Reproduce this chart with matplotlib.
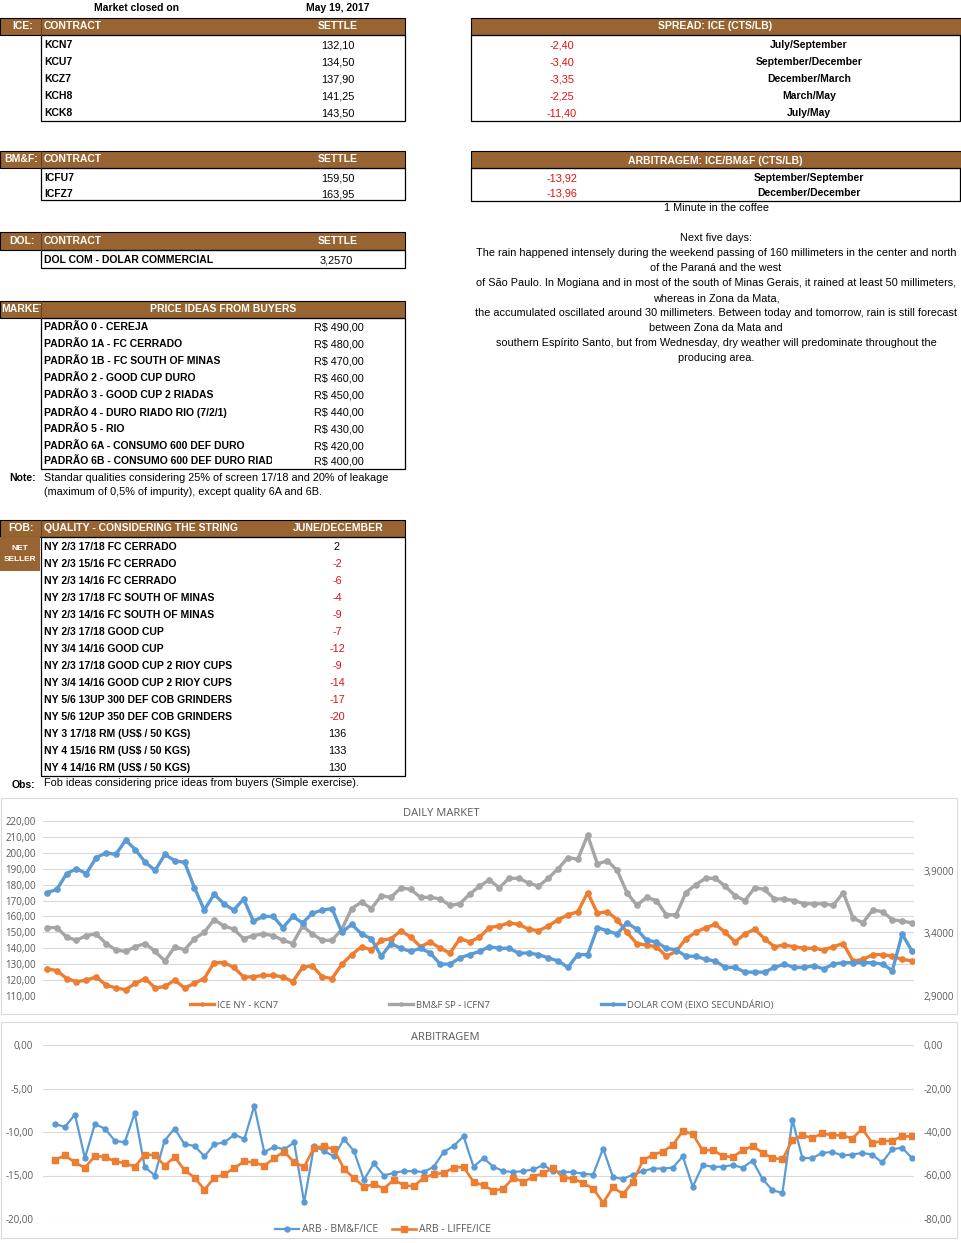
import matplotlib
matplotlib.use('Agg')
import matplotlib.pyplot as plt
from matplotlib.patches import Rectangle
from matplotlib.transforms import Bbox, TransformedBbox
import numpy as np

# table data
market_date = 'May 19, 2017'
ice_contracts = ['KCN7', 'KCU7', 'KCZ7', 'KCH8', 'KCK8']
ice_settle = ['132,10', '134,50', '137,90', '141,25', '143,50']
spread_values = ['-2,40', '-3,40', '-3,35', '-2,25', '-11,40']
spread_labels = ['July/September', 'September/December', 'December/March', 'March/May', 'July/May']
bmf_contracts = ['ICFU7', 'ICFZ7']
bmf_settle = ['159,50', '163,95']
arb_values = ['-13,92', '-13,96']
arb_labels = ['September/September', 'December/December']
dol_contracts = ['DOL COM - DOLAR COMMERCIAL']
dol_settle = ['3,2570']
price_qualities = ['PADRÃO 0 - CEREJA', 'PADRÃO 1A - FC CERRADO', 'PADRÃO 1B - FC SOUTH OF MINAS',
                   'PADRÃO 2 - GOOD CUP DURO', 'PADRÃO 3 - GOOD CUP 2 RIADAS',
                   'PADRÃO 4 - DURO RIADO RIO (7/2/1)', 'PADRÃO 5 - RIO',
                   'PADRÃO 6A - CONSUMO 600 DEF DURO', 'PADRÃO 6B - CONSUMO 600 DEF DURO RIADO']
price_values = ['R$ 490,00', 'R$ 480,00', 'R$ 470,00', 'R$ 460,00', 'R$ 450,00',
                'R$ 440,00', 'R$ 430,00', 'R$ 420,00', 'R$ 400,00']
note_lines = ['Standar qualities considering 25% of screen 17/18 and 20% of leakage',
              '(maximum of 0,5% of impurity), except quality 6A and 6B.']
fob_qualities = ['NY 2/3 17/18 FC CERRADO', 'NY 2/3 15/16 FC CERRADO', 'NY 2/3 14/16 FC CERRADO',
                 'NY 2/3 17/18 FC SOUTH OF MINAS', 'NY 2/3 14/16 FC SOUTH OF MINAS',
                 'NY 2/3 17/18 GOOD CUP', 'NY 3/4 14/16 GOOD CUP', 'NY 2/3 17/18 GOOD CUP 2 RIOY CUPS',
                 'NY 3/4 14/16 GOOD CUP 2 RIOY CUPS', 'NY 5/6 13UP 300 DEF COB GRINDERS',
                 'NY 5/6 12UP 350 DEF COB GRINDERS', 'NY 3 17/18 RM (US$ / 50 KGS)',
                 'NY 4 15/16 RM (US$ / 50 KGS)', 'NY 4 14/16 RM (US$ / 50 KGS)']
fob_diffs = [2, -2, -6, -4, -9, -7, -12, -9, -14, -17, -20, 136, 133, 130]
obs_text = 'Fob ideas considering price ideas from buyers (Simple exercise).'
weather_lines = ['Next five days:',
                 'The rain happened intensely during the weekend passing of 160 millimeters in the center and north',
                 'of the Paraná and the west',
                 'of São Paulo. In Mogiana and in most of the south of Minas Gerais, it rained at least 50 millimeters,',
                 'whereas in Zona da Mata,',
                 'the accumulated oscillated around 30 millimeters. Between today and tomorrow, rain is still forecast',
                 'between Zona da Mata and',
                 'southern Espírito Santo, but from Wednesday, dry weather will predominate throughout the',
                 'producing area.']

# daily market series
ice_ny = [127, 126, 121, 119, 120, 122, 117, 115, 114, 118, 121, 115, 116, 120, 115, 118, 121, 131, 131, 128,
          122, 122, 123, 123, 122, 119, 128, 129, 122, 121, 130, 136, 141, 139, 145, 146, 151, 147, 141, 144,
          140, 137, 146, 144,
          147, 153, 154, 156, 155, 152, 151, 154, 158, 161, 163, 175, 162, 163, 158, 150, 143, 142, 141, 135,
          138, 146, 150, 153, 155, 150, 144, 149, 152, 146, 141, 142, 141, 140, 140, 139, 141, 143, 132, 133,
          136, 136, 135, 133, 132.1]
bmf_sp = [153, 153, 147, 145, 148, 149, 143, 139, 138, 141, 143, 138, 132, 141, 139, 146, 150, 158, 154, 152,
          146, 148, 149, 148, 145, 143, 154, 149, 145, 145, 152, 165, 169, 165, 173, 172, 178, 177, 172, 172,
          171, 167, 168, 174,
          179, 183, 178, 184, 184, 181, 179, 184, 190, 197, 196, 211, 193, 195, 189, 175, 167, 172, 170, 161,
          161, 175, 180, 184, 184, 179, 173, 170, 178, 177, 171, 171, 170, 168, 168, 168, 167, 175, 159, 156,
          164, 163, 158, 157, 156]
dolar_com = [3.724, 3.749, 3.876, 3.914, 3.876, 4.003, 4.041, 4.028, 4.142, 4.066, 3.965, 3.902, 4.028, 3.978,
             3.965, 3.762, 3.585, 3.711, 3.635, 3.585, 3.673, 3.496, 3.534, 3.534, 3.445, 3.534, 3.483, 3.559,
             3.585, 3.597, 3.407, 3.471, 3.394, 3.356, 3.217, 3.318, 3.280, 3.255, 3.280, 3.242, 3.154, 3.154,
             3.204, 3.230,
             3.255, 3.293, 3.280, 3.280, 3.242, 3.242, 3.230, 3.204, 3.179, 3.128, 3.230, 3.230, 3.445, 3.420,
             3.394, 3.483, 3.432, 3.344, 3.331, 3.280, 3.268, 3.217, 3.217, 3.192, 3.179, 3.128, 3.128, 3.090,
             3.090, 3.090, 3.128, 3.154, 3.128, 3.128, 3.141, 3.116, 3.154, 3.166, 3.166, 3.166, 3.166, 3.154,
             3.103, 3.394, 3.257]

# arbitragem series
arb_bmf_ice = [-9.1, -9.4, -8.0, -13.0, -9.1, -9.6, -11.0, -11.2, -7.8, -14.0, -15.0, -11.0, -9.6, -11.4, -11.6,
               -12.8, -11.4, -11.2, -10.3, -10.8, -7.0, -12.3, -11.7, -12.0, -11.2, -18.1, -11.6, -12.2, -12.8,
               -10.8, -12.2, -15.5, -13.6, -15.0, -14.7, -14.5, -14.5, -14.6, -14.0, -12.3, -11.6, -10.5, -14.0,
               -13.0, -14.0, -14.5, -14.6, -14.5, -14.3, -13.8, -14.5, -14.6, -14.6, -14.8, -14.9, -11.9, -15.2,
               -15.4, -14.9, -14.5, -14.2, -14.2, -14.1, -12.8, -16.3, -13.8, -14.0, -14.0, -13.8, -14.1, -13.3,
               -15.4, -16.7, -17.0, -8.6, -13.0, -13.0, -12.4, -12.3, -12.7, -12.6, -12.4, -12.6, -13.5, -12.0,
               -11.8, -13.0]
arb_liffe_ice = [-52.8, -50.8, -54.0, -56.5, -51.0, -51.5, -53.5, -54.3, -56.0, -50.5, -50.5, -55.5, -51.5, -57.5,
                 -61.0, -66.5, -61.0, -59.5, -56.5, -53.5, -54.0, -55.5, -52.0, -49.0, -54.0, -56.0, -47.2, -46.6,
                 -48.0, -57.0, -61.2, -65.2, -64.0, -66.0, -62.0, -64.5, -65.0, -61.0, -59.5, -58.8, -56.5, -56.0,
                 -63.0,
                 -64.5, -67.0, -66.0, -61.0, -63.0, -60.5, -59.0, -56.5, -61.0, -61.5, -63.5, -66.0, -72.5, -65.5,
                 -68.5, -63.0, -53.0, -50.5, -49.0, -46.0, -39.5, -41.0, -48.5, -48.2, -51.0, -51.5, -48.5, -46.5,
                 -49.5, -52.0, -52.5, -43.8, -41.5, -42.8, -40.6, -41.5, -41.5, -43.0, -38.5, -45.0, -44.2, -44.0,
                 -42.0, -42.0]

# page in pixels
W, H = 961, 1243
fig = plt.figure(figsize=(W / 100, H / 100), dpi=100)
bg = fig.add_axes([0, 0, 1, 1])
bg.set_xlim(0, W)
bg.set_ylim(H, 0)
bg.axis('off')

brown = '#986532'
red = '#E01010'
tfont = 'Liberation Sans'
cfont = ['Open Sans', 'DejaVu Sans']
gray_txt = '#595959'


def txt(x, y, s, ha='left', color='black', bold=True, size=None, clip=None):
    if size is None:
        size = 7.5 if bold else 7.8
    t = bg.text(x, y, s, ha=ha, va='center', color=color, fontsize=size,
                fontweight='bold' if bold else 'normal', family=tfont)
    if clip is not None:
        t.set_clip_box(TransformedBbox(Bbox([[clip[0], 0], [clip[1], H]]), bg.transData))
        t.set_clip_on(True)
    return t


def header(x0, x1, y0, y1, sep=None):
    bg.add_patch(Rectangle((x0, y0), x1 - x0, y1 - y0, facecolor=brown, edgecolor='black', lw=0.8))
    if sep is not None:
        bg.plot([sep, sep], [y0, y1], color='#5a3a18', lw=0.6)


def box(x0, x1, y0, y1):
    bg.add_patch(Rectangle((x0, y0), x1 - x0, y1 - y0, facecolor='none', edgecolor='black', lw=0.9))


# title line
txt(136, 8, 'Market closed on', ha='center')
txt(338, 8, market_date, ha='center')

# ICE table
header(0, 405, 18, 35, sep=41)
txt(33, 26, 'ICE:', ha='right', color='white')
txt(44, 26, 'CONTRACT', color='white')
txt(338, 26, 'SETTLE', ha='center', color='white')
box(41, 405, 35, 121)
for i, (c, v) in enumerate(zip(ice_contracts, ice_settle)):
    txt(44, 45 + 17 * i, c)
    txt(338, 45 + 17 * i, v, ha='center', bold=False)

# spread table
header(471, 961, 18, 35)
txt(715, 26, 'SPREAD: ICE (CTS/LB)', ha='center', color='white')
box(471, 960, 35, 121)
for i, (v, lab) in enumerate(zip(spread_values, spread_labels)):
    txt(562, 45 + 17 * i, v, ha='center', color=red, bold=False)
    txt(809, 45 + 17 * i, lab, ha='center')

# BM&F table
header(0, 405, 151, 168, sep=41)
txt(38, 159, 'BM&F:', ha='right', color='white')
txt(44, 159, 'CONTRACT', color='white')
txt(338, 159, 'SETTLE', ha='center', color='white')
box(41, 405, 168, 200)
for i, (c, v) in enumerate(zip(bmf_contracts, bmf_settle)):
    txt(44, 178 + 16 * i, c)
    txt(338, 178 + 16 * i, v, ha='center', bold=False)

# arbitragem table
header(471, 961, 151, 168)
txt(715, 161, 'ARBITRAGEM: ICE/BM&F (CTS/LB)', ha='center', color='white')
box(471, 960, 168, 201)
for i, (v, lab) in enumerate(zip(arb_values, arb_labels)):
    txt(562, 178 + 15 * i, v, ha='center', color=red, bold=False)
    txt(809, 178 + 15 * i, lab, ha='center')
txt(716, 208, '1 Minute in the coffee', ha='center', bold=False)

# DOL table
header(0, 405, 232, 250, sep=41)
txt(35, 241, 'DOL:', ha='right', color='white')
txt(44, 241, 'CONTRACT', color='white')
txt(338, 241, 'SETTLE', ha='center', color='white')
box(41, 405, 250, 268)
txt(44, 260, dol_contracts[0])
txt(336, 260, dol_settle[0], ha='center', bold=False)

# weather text
for i, line in enumerate(weather_lines):
    txt(716, 238 + 15 * i, line, ha='center', bold=False)

# price ideas table
header(0, 405, 301, 318, sep=41)
txt(1, 309, 'MARKET:', color='white', clip=(0, 41))
txt(223, 309, 'PRICE IDEAS FROM BUYERS', ha='center', color='white')
box(41, 405, 318, 469)
for i, (q, v) in enumerate(zip(price_qualities, price_values)):
    y = 327 + 17 * i if i < 8 else 461
    txt(44, y, q, clip=(41, 272))
    txt(314, y, v, bold=False)
txt(36, 478, 'Note:', ha='right')
for i, line in enumerate(note_lines):
    txt(44, 478 + 14 * i, line, bold=False)

# FOB table
header(0, 405, 520, 537, sep=41)
txt(34, 528, 'FOB:', ha='right', color='white')
txt(44, 528, 'QUALITY - CONSIDERING THE STRING', color='white')
txt(338, 528, 'JUNE/DECEMBER', ha='center', color='white')
bg.add_patch(Rectangle((0, 537), 40, 34, facecolor=brown, edgecolor='none'))
txt(20, 548, 'NET', ha='center', color='white', size=6)
txt(20, 559, 'SELLER', ha='center', color='white', size=6)
box(41, 405, 537, 776)
for i, (q, d) in enumerate(zip(fob_qualities, fob_diffs)):
    txt(44, 547 + 17 * i, q)
    txt(337, 547 + 17 * i, str(d), ha='center', bold=False, color=red if d < 0 else 'black')
txt(35, 785, 'Obs:', ha='right')
txt(44, 783, obs_text, bold=False)

# chart frames
bg.add_patch(Rectangle((0.5, 798), 956, 216, facecolor='none', edgecolor='#D9D9D9', lw=0.8))
bg.add_patch(Rectangle((0.5, 1022), 956, 216, facecolor='none', edgecolor='#D9D9D9', lw=0.8))


def fig_rect(x0, y0, x1, y1):
    return [x0 / W, 1 - y1 / H, (x1 - x0) / W, (y1 - y0) / H]


def comma(fmt):
    return plt.FuncFormatter(lambda v, p: format(v, fmt).replace('.', ','))


def style(ax, pad):
    ax.set_facecolor('none')
    for s in ax.spines.values():
        s.set_visible(False)
    ax.tick_params(length=0, labelsize=7, labelcolor=gray_txt, pad=pad)
    for lab in ax.get_yticklabels():
        lab.set_family(cfont)
    ax.set_xticks([])


blue = '#5B9BD5'
orange = '#ED7D31'
gray = '#A5A5A5'

# daily market chart
n = len(ice_ny)
x = np.arange(n)
unit = (912 - 47) / (n - 1)
ax1 = fig.add_axes(fig_rect(43, 821, 914, 996))
ax1.set_xlim(-(47 - 43) / unit, n - 1 + 2 / unit)
ax1.set_ylim(110, 220)
ax1.set_yticks(np.arange(110, 221, 10))
ax1.yaxis.set_major_formatter(comma('.2f'))
ax1.grid(axis='y', color='#D9D9D9', lw=0.8)
ax1.set_axisbelow(True)
l1, = ax1.plot(x, ice_ny, color=orange, lw=2.4, marker='o', ms=3.8, label='ICE NY - KCN7')
l2, = ax1.plot(x, bmf_sp, color=gray, lw=2.4, marker='o', ms=3.8, label='BM&F SP - ICFN7')
ax2 = ax1.twinx()
ax2.set_ylim(2.9, 2.9 + 110 * 0.01268)
ax2.set_yticks([2.9, 3.4, 3.9])
ax2.yaxis.set_major_formatter(comma('.4f'))
l3, = ax2.plot(x, dolar_com, color=blue, lw=2.4, marker='o', ms=3.8, label='DOLAR COM (EIXO SECUNDÁRIO)')
style(ax1, 5)
style(ax2, 7)
fig.text(441 / W, 1 - 813 / H, 'DAILY MARKET', ha='center', va='center', fontsize=8, color=gray_txt, family=cfont)
fig.legend([l1, l2, l3], [l.get_label() for l in (l1, l2, l3)], loc='center', bbox_to_anchor=(482 / W, 1 - 1005 / H),
           ncol=3, frameon=False, prop={'family': cfont, 'size': 6.8}, labelcolor=gray_txt, handlelength=2.5,
           handletextpad=0.3, columnspacing=11.8, markerscale=0.6)

# arbitragem chart
m = len(arb_bmf_ice)
xa = np.arange(m)
unit = (912 - 55) / (m - 1)
ax3 = fig.add_axes(fig_rect(43, 1045, 914, 1219))
ax3.set_xlim(-(55 - 43) / unit, m - 1 + 2 / unit)
ax3.set_ylim(-20, 0)
ax3.set_yticks([0, -5, -10, -15, -20])
ax3.yaxis.set_major_formatter(comma('.2f'))
ax3.grid(axis='y', color='#D9D9D9', lw=0.8)
ax3.set_axisbelow(True)
ax4 = ax3.twinx()
ax4.set_ylim(-80, 0)
ax4.set_yticks([0, -20, -40, -60, -80])
ax4.yaxis.set_major_formatter(comma('.2f'))
l4, = ax3.plot(xa, arb_bmf_ice, color=blue, lw=1.6, marker='o', ms=3.6, label='ARB - BM&F/ICE')
l5, = ax4.plot(xa, arb_liffe_ice, color=orange, lw=1.9, marker='s', ms=4.0, label='ARB - LIFFE/ICE')
style(ax3, 7)
style(ax4, 7)
fig.text(445 / W, 1 - 1037 / H, 'ARBITRAGEM', ha='center', va='center', fontsize=8, color=gray_txt, family=cfont)
fig.legend([l4, l5], [l4.get_label(), l5.get_label()], loc='center', bbox_to_anchor=(383 / W, 1 - 1230 / H),
           ncol=2, frameon=False, prop={'family': cfont, 'size': 7.5}, labelcolor=gray_txt, handlelength=2.3,
           handletextpad=0.3, columnspacing=1.4)

fig.savefig('out.png', dpi=100)
